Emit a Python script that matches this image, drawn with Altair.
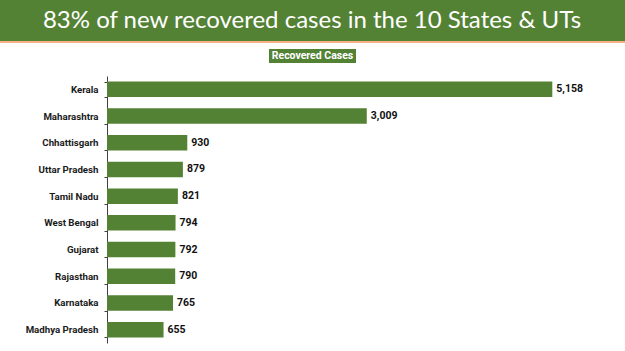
import altair as alt
import pandas as pd

states = ["Kerala", "Maharashtra", "Chhattisgarh", "Uttar Pradesh", "Tamil Nadu",
          "West Bengal", "Gujarat", "Rajasthan", "Karnataka", "Madhya Pradesh"]
recovered = [5158, 3009, 930, 879, 821, 794, 792, 790, 765, 655]
title_text = ["83% of new recovered cases in the 10 States & UTs"]
legend_text = ["Recovered Cases"]

GREEN = "#548235"
df = pd.DataFrame({"state": states, "recovered": recovered})

W, H = 518, 267
PL, PT = 107, 76

base = alt.Chart(df).encode(
    y=alt.Y("state:N", sort=states,
            scale=alt.Scale(paddingInner=0.42, paddingOuter=0.21),
            axis=alt.Axis(title=None, tickBand="extent", tickSize=3, labelPadding=6,
                          labelFont="Roboto", labelFontWeight="bold", labelFontSize=9.7,
                          labelColor="#1a1a1a", domainColor="#404040", tickColor="#404040",
                          domainWidth=1, tickWidth=1)),
    x=alt.X("recovered:Q", scale=alt.Scale(domain=[0, 6000], nice=False),
            axis=None),
)

bars = base.mark_bar(color=GREEN)
vals = base.mark_text(align="left", baseline="middle", dx=4, font="Roboto",
                      fontWeight="bold", fontSize=10.5, color="#111111").encode(
    text=alt.Text("recovered:Q", format=",")
)

tdf = pd.DataFrame({"t": title_text})
banner = alt.Chart(tdf).mark_rect(color=GREEN).encode(
    x=alt.value(-PL), x2=alt.value(W), y=alt.value(-PT), y2=alt.value(-35))
orange = alt.Chart(tdf).mark_rect(color="#F4B183").encode(
    x=alt.value(-PL), x2=alt.value(W), y=alt.value(-35), y2=alt.value(-33))
title = alt.Chart(tdf).mark_text(font="Lato", fontSize=24, color="white",
                                 align="center", baseline="middle").encode(
    x=alt.value(205), y=alt.value(-55), text="t:N")

ldf = pd.DataFrame({"t": legend_text})
lbox = alt.Chart(ldf).mark_rect(color=GREEN).encode(
    x=alt.value(162), x2=alt.value(249), y=alt.value(-27), y2=alt.value(-13))
ltext = alt.Chart(ldf).mark_text(font="Roboto", fontWeight="bold", fontSize=10.5,
                                 color="white", align="center", baseline="middle").encode(
    x=alt.value(205.5), y=alt.value(-20), text="t:N")

chart = alt.layer(banner, orange, title, lbox, ltext, bars, vals).properties(
    width=W, height=H,
    autosize=alt.AutoSizeParams(type="none"),
    padding={"left": PL, "top": PT, "right": 0, "bottom": 8},
    background="white",
).configure_view(stroke=None)

chart.save("out.html", embed_options={"renderer": "svg", "actions": False})
